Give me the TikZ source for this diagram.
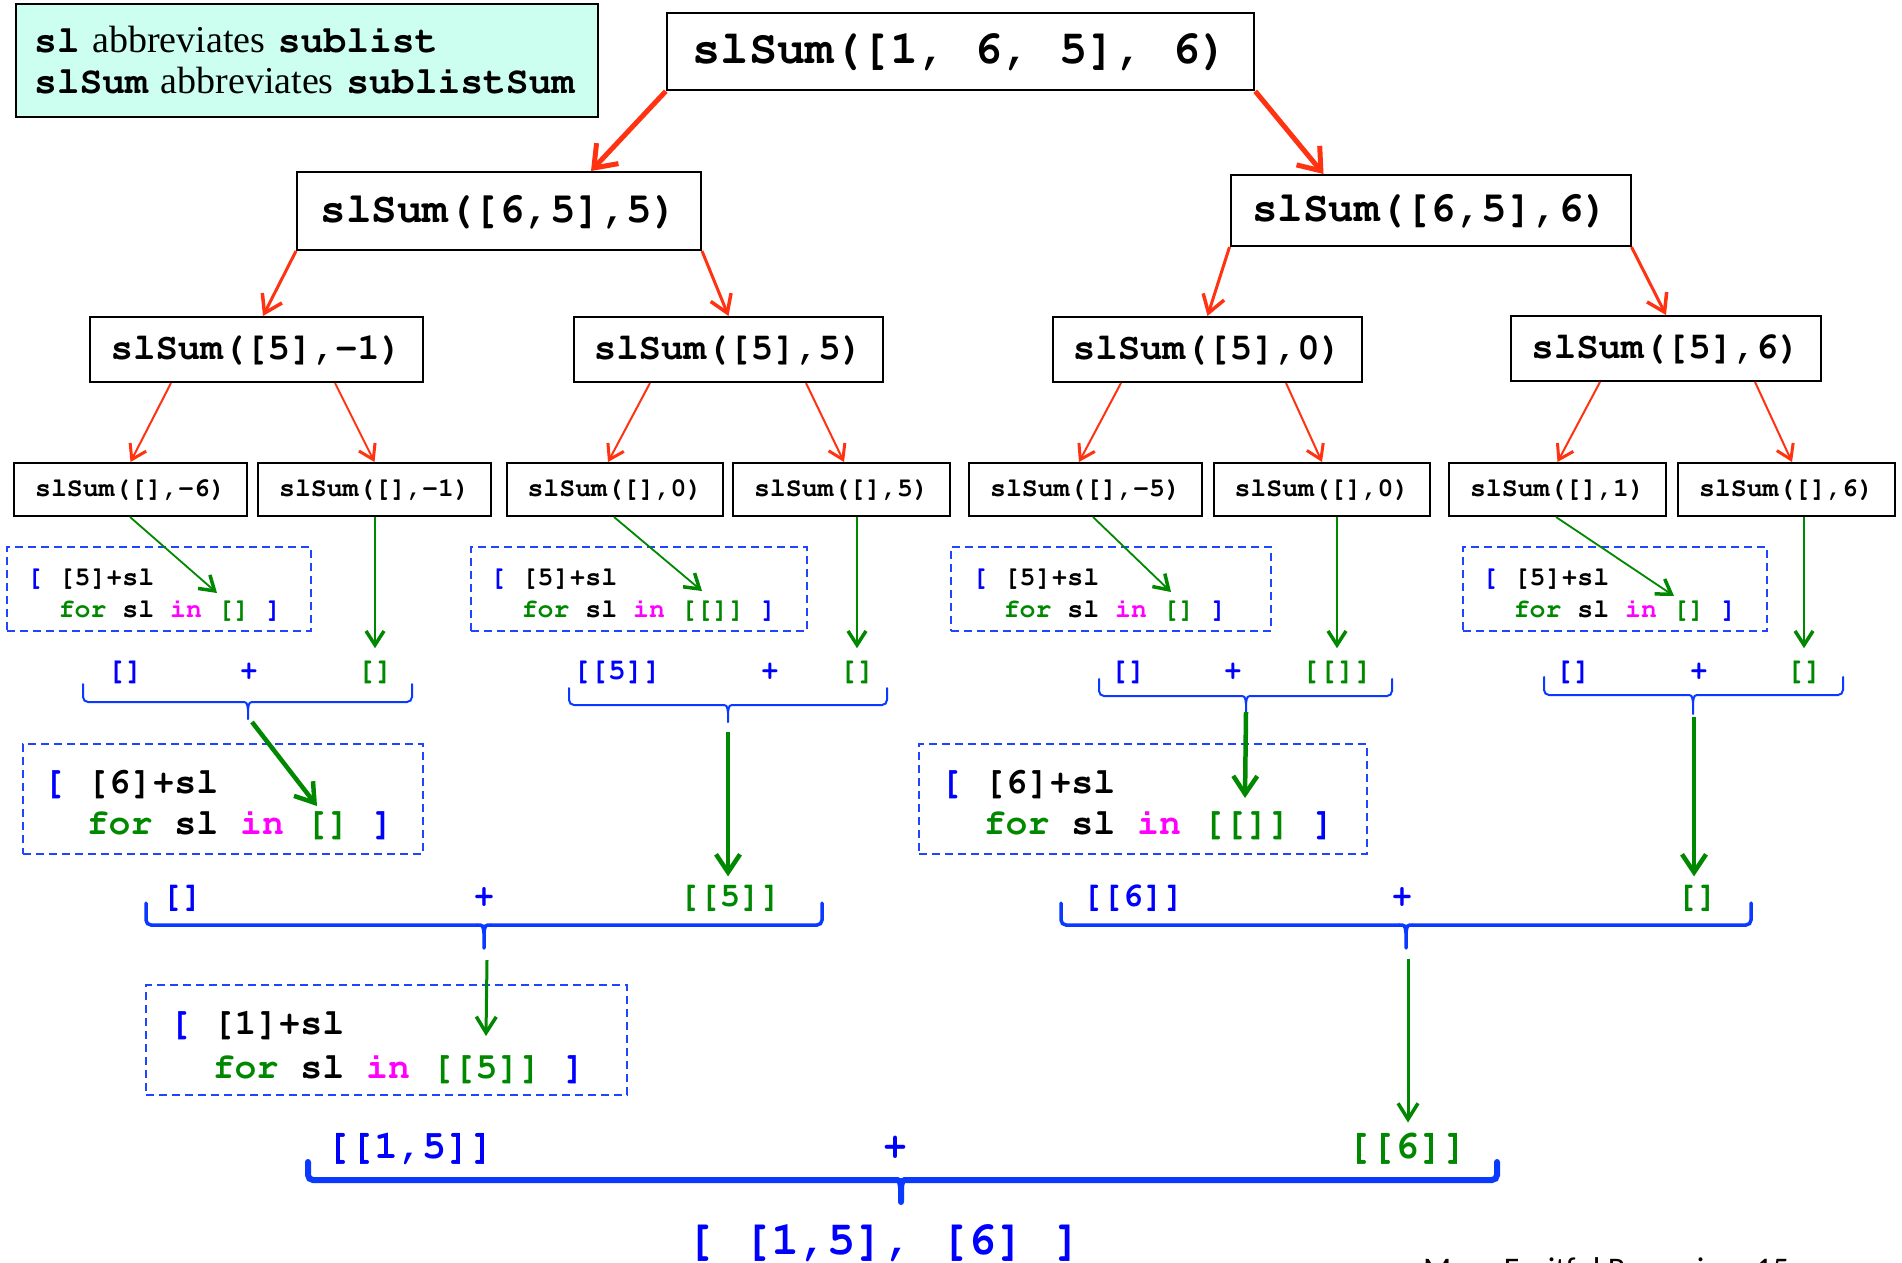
\documentclass[tikz,border=0pt]{standalone}
\usepackage[T1]{fontenc}
\usepackage{fontspec}
\setmainfont{Liberation Serif}
\newfontfamily\slidefont{Carlito}
\usetikzlibrary{arrows.meta,calc}

\definecolor{arrred}{HTML}{FF3311}
\definecolor{codegreen}{HTML}{008800}
\definecolor{codeblue}{HTML}{0000FF}
\definecolor{dashblue}{HTML}{1F45FF}
\definecolor{braceblue}{HTML}{0A3AFF}
\definecolor{codemag}{HTML}{FF00FF}
\definecolor{legendfill}{HTML}{CCFFF0}

% code text: bold Courier; \codespace is one full character cell
\newcommand\courbold{\fontencoding{T1}\fontfamily{pcr}\fontseries{b}\fontshape{n}\selectfont}
\newcommand\codefont[1]{\fontsize{#1}{#1}\courbold}
\newcommand\codefontls[2]{\fontsize{#1}{#2}\courbold}
\newcommand\codespace{\hspace*{0.6em}}
\newcommand\codew[1]{{\courbold #1}}
\newcommand\blu[1]{\textcolor{codeblue}{#1}}
\newcommand\grn[1]{\textcolor{codegreen}{#1}}
\newcommand\mgt[1]{\textcolor{codemag}{#1}}

% curly brace joining two results: left, right, top, middle, tip x, tip bottom, width
\newcommand\splitbrace[7]{%
  \draw[braceblue, line width=#7, line cap=round, rounded corners=5pt] (#1,#3) -- (#1,#4) -- (#5-7,#4);
  \draw[braceblue, line width=#7, line cap=round] (#5-7,#4) .. controls (#5-1,#4) .. (#5,#4+8) -- (#5,#6);
  \draw[braceblue, line width=#7, line cap=round] (#5,#4+8) .. controls (#5+1,#4) .. (#5+7,#4);
  \draw[braceblue, line width=#7, line cap=round, rounded corners=5pt] (#5+7,#4) -- (#2,#4) -- (#2,#3);
}

\tikzset{
  call/.style={draw=black, line width=2pt, fill=white, inner sep=0pt},
  compbox/.style={draw=dashblue, line width=2pt, dash pattern=on 8pt off 5pt,
    align=left, inner ysep=0pt},
  res/.style={inner sep=0pt, anchor=base},
  redA/.style={draw=arrred, line width=5pt, -{Straight Barb[length=20pt,width=30pt,line width=5pt]}},
  redB/.style={draw=arrred, line width=3pt, -{Straight Barb[length=17pt,width=22pt,line width=3.5pt]}},
  redC/.style={draw=arrred, line width=2pt, -{Straight Barb[length=14pt,width=18pt,line width=3pt]}},
  grnthin/.style={draw=codegreen, line width=2pt, -{Straight Barb[length=14pt,width=18pt,line width=3.5pt]}},
  grnmid/.style={draw=codegreen, line width=3pt, -{Straight Barb[length=16pt,width=20pt,line width=3.5pt]}},
  grnthick/.style={draw=codegreen, line width=4.5pt, -{Straight Barb[length=18pt,width=24pt,line width=4.5pt]}},
}

\begin{document}
\begin{tikzpicture}[x=1pt, y=-1pt]
\useasboundingbox (0,0) rectangle (1902,1262);
\fill[white] (0,0) rectangle (1902,1262);

% legend
\node[draw=black, line width=2pt, fill=legendfill, minimum width=582pt, minimum height=113pt,
  text width=546pt, inner xsep=18pt, inner ysep=0pt, align=left,
  font=\fontsize{38}{41}\selectfont] (legend) at (307,60.5)
  {\codew{sl} abbreviates \codew{sublist}\\\codew{slSum} abbreviates \codew{sublistSum}};

% call tree
\node[call, line width=2.5pt, minimum width=587pt, minimum height=77pt, font=\codefont{47}] (top) at (960.5,51.5)
  {slSum([1,\codespace 6,\codespace 5],\codespace 6)};

\node[call, minimum width=404pt, minimum height=78pt, font=\codefont{42.5}] (lA) at (499,211) {slSum([6,5],5)};
\node[call, minimum width=400pt, minimum height=71pt, font=\codefont{42.5}] (lB) at (1430.5,210.5) {slSum([6,5],6)};

\node[call, minimum width=333pt, minimum height=65pt, font=\codefont{37.4}] (mA) at (256.5,349.5) {slSum([5],-1)};
\node[call, minimum width=309pt, minimum height=65pt, font=\codefont{37.4}] (mB) at (728.5,349.5) {slSum([5],5)};
\node[call, minimum width=309pt, minimum height=65pt, font=\codefont{37.4}] (mC) at (1207.5,349.5) {slSum([5],0)};
\node[call, minimum width=310pt, minimum height=65pt, font=\codefont{37.4}] (mD) at (1666,348.5) {slSum([5],6)};

\node[call, minimum width=233pt, minimum height=53pt, font=\codefont{26.5}] (b1) at (130.5,489.5) {slSum([],-6)};
\node[call, minimum width=233pt, minimum height=53pt, font=\codefont{26.5}] (b2) at (374.5,489.5) {slSum([],-1)};
\node[call, minimum width=216pt, minimum height=53pt, font=\codefont{26.5}] (b3) at (615,489.5) {slSum([],0)};
\node[call, minimum width=217pt, minimum height=53pt, font=\codefont{26.5}] (b4) at (841.5,489.5) {slSum([],5)};
\node[call, minimum width=233pt, minimum height=53pt, font=\codefont{26.5}] (b5) at (1085.5,489.5) {slSum([],-5)};
\node[call, minimum width=216pt, minimum height=53pt, font=\codefont{26.5}] (b6) at (1322,489.5) {slSum([],0)};
\node[call, minimum width=217pt, minimum height=53pt, font=\codefont{26.5}] (b7) at (1557.5,489.5) {slSum([],1)};
\node[call, minimum width=217pt, minimum height=53pt, font=\codefont{26.5}] (b8) at (1786.5,489.5) {slSum([],6)};

% recursive calls
\draw[redA] (top.south west) -- ([xshift=295pt]lA.north west);
\draw[redA] (top.south east) -- ([xshift=94pt]lB.north west);
\draw[redB] (lA.south west) -- ([xshift=174pt]mA.north west);
\draw[redB] (lA.south east) -- (mB.north);
\draw[redB] (lB.south west) -- (mC.north);
\draw[redB] (lB.south east) -- (mD.north);
\draw[redC] ([xshift=82pt]mA.south west) -- (b1.north);
\draw[redC] ([xshift=246pt]mA.south west) -- (b2.north);
\draw[redC] ([xshift=77pt]mB.south west) -- ([xshift=102pt]b3.north west);
\draw[redC] ([xshift=233pt]mB.south west) -- ([xshift=112pt]b4.north west);
\draw[redC] ([xshift=69pt]mC.south west) -- ([xshift=111pt]b5.north west);
\draw[redC] ([xshift=234pt]mC.south west) -- (b6.north);
\draw[redC] ([xshift=90pt]mD.south west) -- (b7.north);
\draw[redC] ([xshift=245pt]mD.south west) -- ([xshift=115pt]b8.north west);

% innermost comprehensions
\node[compbox, minimum width=304pt, minimum height=84pt, inner xsep=20pt, text width=264pt,
  font=\codefontls{26.5}{32}] (d1) at (159,589)
  {\rule{0pt}{28pt}\blu{[}\codespace[5]+sl\\\codespace\codespace\grn{for}\codespace sl\codespace\mgt{in}\codespace\grn{[]}\codespace\blu{]}};
\node[compbox, minimum width=336pt, minimum height=84pt, inner xsep=19pt, text width=298pt,
  font=\codefontls{26.5}{32}] (d2) at (639,589)
  {\rule{0pt}{28pt}\blu{[}\codespace[5]+sl\\\codespace\codespace\grn{for}\codespace sl\codespace\mgt{in}\codespace\grn{[[]]}\codespace\blu{]}};
\node[compbox, minimum width=320pt, minimum height=84pt, inner xsep=21pt, text width=278pt,
  font=\codefontls{26.5}{32}] (d3) at (1111,589)
  {\rule{0pt}{28pt}\blu{[}\codespace[5]+sl\\\codespace\codespace\grn{for}\codespace sl\codespace\mgt{in}\codespace\grn{[]}\codespace\blu{]}};
\node[compbox, minimum width=304pt, minimum height=84pt, inner xsep=19pt, text width=266pt,
  font=\codefontls{26.5}{32}] (d4) at (1615,589)
  {\rule{0pt}{28pt}\blu{[}\codespace[5]+sl\\\codespace\codespace\grn{for}\codespace sl\codespace\mgt{in}\codespace\grn{[]}\codespace\blu{]}};

% results of the leaf calls
\node[res, font=\codefont{29.5}, text=codeblue] (g1l) at (125,679) {[]};
\node[res, font=\codefont{29.5}, text=codeblue] (g1p) at (249,679) {+};
\node[res, font=\codefont{29.5}, text=codegreen] (g1r) at (375,679) {[]};
\node[res, font=\codefont{29.5}, text=codeblue] (g2l) at (617,679) {[[5]]};
\node[res, font=\codefont{29.5}, text=codeblue] (g2p) at (770,679) {+};
\node[res, font=\codefont{29.5}, text=codegreen] (g2r) at (857,679) {[]};
\node[res, font=\codefont{29.5}, text=codeblue] (g3l) at (1128,679) {[]};
\node[res, font=\codefont{29.5}, text=codeblue] (g3p) at (1233,679) {+};
\node[res, font=\codefont{29.5}, text=codegreen] (g3r) at (1337,679) {[[]]};
\node[res, font=\codefont{29.5}, text=codeblue] (g4l) at (1573,679) {[]};
\node[res, font=\codefont{29.5}, text=codeblue] (g4p) at (1699,679) {+};
\node[res, font=\codefont{29.5}, text=codegreen] (g4r) at (1804,679) {[]};

\draw[grnthin, line width=1.8pt] ([xshift=117pt]b1.south west) -- ($(d1.north west)+(211,47)$);
\draw[grnthin, line width=1.8pt] ([xshift=108pt]b3.south west) -- ($(d2.north west)+(232,45)$);
\draw[grnthin, line width=1.8pt] ([xshift=125pt]b5.south west) -- ($(d3.north west)+(221,46)$);
\draw[grnthin, line width=1.8pt] ([xshift=108pt]b7.south west) -- ($(d4.north west)+(212,50)$);
\draw[grnthin, shorten >=12pt] (g1r |- b2.south) -- (g1r.north);
\draw[grnthin, shorten >=12pt] (g2r |- b4.south) -- (g2r.north);
\draw[grnthin, shorten >=12pt] (g3r |- b6.south) -- (g3r.north);
\draw[grnthin, shorten >=12pt] (g4r |- b8.south) -- (g4r.north);

\splitbrace{83}{412}{684}{702}{248}{719}{2pt}
\splitbrace{569}{887}{688}{705}{728}{722}{2pt}
\splitbrace{1099}{1392}{679}{696}{1246}{712}{2pt}
\splitbrace{1544}{1843}{677}{695}{1693}{714}{2pt}

% second comprehensions
\node[compbox, minimum width=400pt, minimum height=110pt, inner xsep=20pt, text width=360pt,
  font=\codefontls{36.5}{41}] (dL) at (223,799)
  {\rule{0pt}{34pt}\blu{[}\codespace[6]+sl\\\codespace\codespace\grn{for}\codespace sl\codespace\mgt{in}\codespace\grn{[]}\codespace\blu{]}};
\node[compbox, minimum width=448pt, minimum height=110pt, inner xsep=21pt, text width=406pt,
  font=\codefontls{36.5}{41}] (dR) at (1143,799)
  {\rule{0pt}{34pt}\blu{[}\codespace[6]+sl\\\codespace\codespace\grn{for}\codespace sl\codespace\mgt{in}\codespace\grn{[[]]}\codespace\blu{]}};

\coordinate (t1) at (252,722);
\coordinate (t2) at (728,732);
\coordinate (t3) at (1246,712);
\coordinate (t4) at (1694,717);
\draw[grnthick] (t1) -- ($(dL.north west)+(295,63)$);
\draw[grnthick] (t3) -- ($(dR.north west)+(327,55)$);

% results of the middle calls
\node[res, font=\codefont{34}, text=codeblue] (h1l) at (182,906) {[]};
\node[res, font=\codefont{34}, text=codeblue] (h1p) at (484,906) {+};
\node[res, font=\codefont{34}, text=codegreen] (h1r) at (730,906) {[[5]]};
\node[res, font=\codefont{34}, text=codeblue] (h2l) at (1133,906) {[[6]]};
\node[res, font=\codefont{34}, text=codeblue] (h2p) at (1402,906) {+};
\node[res, font=\codefont{34}, text=codegreen] (h2r) at (1697,906) {[]};

\draw[grnthick, shorten >=8pt] (t2) -- (t2 |- h1r.north);
\draw[grnthick, shorten >=8pt] (t4) -- (t4 |- h2r.north);

\splitbrace{146}{822}{903}{925}{484}{948}{3.5pt}
\splitbrace{1061}{1751}{903}{925}{1406}{948}{3.5pt}

% outer comprehension
\node[compbox, minimum width=481pt, minimum height=110pt, inner xsep=23pt, text width=435pt,
  font=\codefontls{36.5}{44}] (dM) at (386.5,1040)
  {\rule{0pt}{36pt}\blu{[}\codespace[1]+sl\\\codespace\codespace\grn{for}\codespace sl\codespace\mgt{in}\codespace\grn{[[5]]}\codespace\blu{]}};

\coordinate (t5) at (487,960);
\coordinate (t6) at (1408,959);
\draw[grnmid] (t5) -- ($(dM.north west)+(341,52)$);

% final results
\node[res, font=\codefont{40}, text=codeblue] (k1) at (410,1158) {[[1,5]]};
\node[res, font=\codefont{40}, text=codeblue] (k2) at (895,1158) {+};
\node[res, font=\codefont{40}, text=codegreen] (k3) at (1407,1158) {[[6]]};

\draw[grnmid, shorten >=10pt] (t6) -- (t6 |- k3.north);

\splitbrace{308}{1497}{1162}{1180}{901}{1202}{6pt}

\node[res, font=\codefont{47}, text=codeblue] (final) at (884,1254)
  {[\codespace[1,5],\codespace[6]\codespace]};

% slide footer
\node[inner sep=0pt, anchor=base west, font=\slidefont\fontsize{33}{33}\selectfont] (foot) at (1423,1280)
  {More Fruitful Recursion\hspace{0.5em}15};
\end{tikzpicture}
\end{document}
